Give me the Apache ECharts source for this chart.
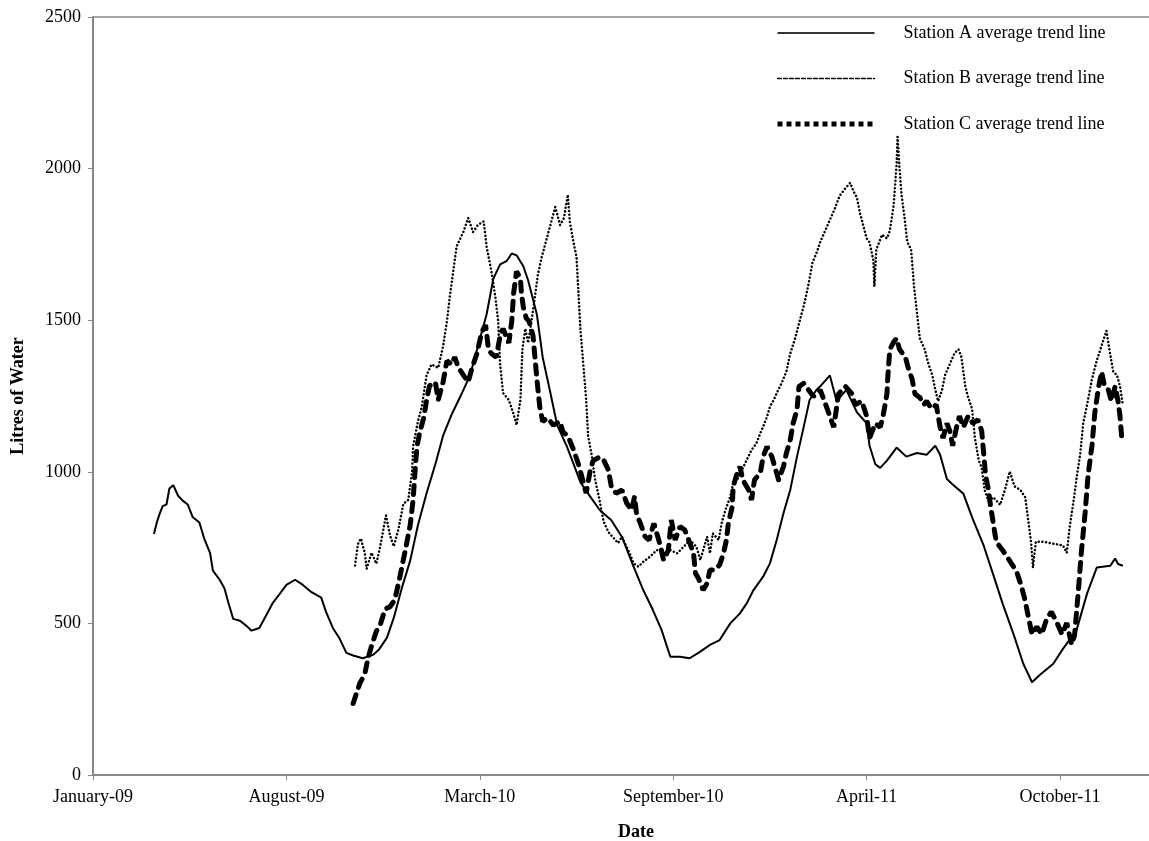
<!DOCTYPE html>
<html>
<head>
<meta charset="utf-8">
<title>Station average trend lines</title>
<script src="https://cdn.jsdelivr.net/npm/echarts@6/dist/echarts.min.js"></script>
<style>
  html, body { margin: 0; padding: 0; background: #fff; }
  #chart { width: 1149px; height: 841px; }
</style>
</head>
<body>
<div id="chart"></div>
<script>
// x values are days counted from the axis start; ticks every 200 days
const tickDays = [0, 200, 400, 600, 800, 1000];
const tickLabels = ['January-09', 'August-09', 'March-10', 'September-10', 'April-11', 'October-11'];

const stationADays = [63, 66, 69, 72, 76, 79, 83, 88, 93, 98, 103, 110, 115, 121, 124, 131, 136, 140, 145, 152, 159, 164, 172, 179, 186, 193, 200, 209, 217, 226, 236, 241, 248, 255, 262, 269, 279, 290, 296, 304, 311, 319, 328, 336, 345, 354, 362, 371, 380, 390, 400, 407, 414, 421, 428, 433, 438, 445, 450, 459, 465, 473, 480, 490, 497, 504, 514, 524, 536, 547, 559, 569, 579, 588, 597, 607, 617, 628, 638, 648, 659, 669, 676, 683, 693, 700, 707, 714, 721, 728, 735, 741, 748, 752, 762, 769, 779, 790, 800, 803, 809, 814, 821, 831, 841, 852, 862, 871, 876, 883, 889, 900, 910, 921, 931, 941, 952, 962, 971, 979, 993, 1003, 1017, 1028, 1038, 1052, 1057, 1060, 1065];
const stationAValues = [795, 833, 862, 887, 892, 945, 956, 921, 904, 892, 851, 833, 780, 733, 674, 644, 615, 568, 515, 509, 491, 476, 485, 526, 568, 597, 627, 644, 627, 603, 585, 538, 485, 450, 403, 394, 385, 397, 415, 453, 518, 613, 707, 824, 930, 1025, 1119, 1190, 1249, 1319, 1437, 1519, 1637, 1684, 1696, 1720, 1714, 1678, 1631, 1519, 1378, 1260, 1154, 1084, 1025, 966, 919, 874, 840, 785, 687, 610, 544, 478, 390, 390, 385, 407, 429, 445, 500, 533, 566, 610, 654, 698, 775, 863, 940, 1050, 1149, 1237, 1270, 1282, 1318, 1233, 1270, 1196, 1160, 1086, 1025, 1013, 1037, 1080, 1050, 1062, 1056, 1086, 1056, 976, 958, 928, 842, 757, 660, 562, 464, 367, 306, 330, 367, 416, 477, 599, 684, 690, 714, 696, 690];

const stationBDays = [271, 274, 277, 281, 283, 288, 293, 297, 303, 307, 311, 316, 321, 326, 330, 331, 336, 340, 345, 350, 357, 362, 366, 369, 373, 376, 383, 388, 393, 398, 404, 407, 412, 416, 419, 421, 424, 430, 435, 438, 442, 444, 447, 450, 455, 460, 464, 469, 474, 478, 483, 487, 491, 493, 497, 500, 502, 504, 507, 510, 512, 516, 519, 523, 528, 533, 538, 543, 547, 550, 555, 559, 564, 569, 576, 583, 590, 597, 604, 611, 617, 624, 628, 635, 638, 641, 647, 650, 654, 659, 662, 666, 671, 676, 681, 686, 690, 693, 697, 700, 704, 707, 712, 717, 721, 726, 731, 736, 740, 744, 748, 752, 757, 762, 767, 772, 778, 783, 786, 790, 793, 797, 800, 803, 807, 808, 810, 816, 821, 824, 828, 831, 832, 834, 836, 839, 842, 846, 849, 852, 855, 860, 864, 868, 871, 874, 878, 881, 886, 891, 895, 898, 902, 905, 909, 912, 916, 919, 922, 926, 931, 938, 943, 948, 953, 959, 964, 967, 970, 972, 975, 983, 993, 1003, 1007, 1010, 1014, 1017, 1021, 1024, 1028, 1033, 1038, 1043, 1048, 1051, 1055, 1059, 1062, 1065];
const stationBValues = [691, 762, 780, 733, 680, 733, 697, 754, 856, 792, 754, 813, 895, 907, 1001, 1084, 1166, 1214, 1319, 1354, 1343, 1414, 1496, 1578, 1672, 1743, 1791, 1837, 1791, 1814, 1826, 1743, 1661, 1578, 1496, 1354, 1260, 1237, 1190, 1154, 1237, 1402, 1472, 1425, 1531, 1649, 1708, 1767, 1826, 1873, 1814, 1837, 1914, 1826, 1755, 1708, 1590, 1472, 1354, 1237, 1119, 1049, 978, 919, 836, 801, 783, 765, 786, 764, 731, 698, 687, 703, 720, 742, 731, 742, 731, 753, 775, 753, 709, 786, 731, 797, 775, 830, 874, 918, 962, 973, 1006, 1039, 1072, 1094, 1127, 1149, 1182, 1215, 1237, 1259, 1292, 1330, 1390, 1440, 1500, 1560, 1620, 1690, 1720, 1758, 1794, 1831, 1867, 1910, 1935, 1953, 1928, 1904, 1855, 1806, 1770, 1757, 1697, 1611, 1733, 1782, 1770, 1794, 1880, 2014, 2105, 2002, 1916, 1843, 1758, 1733, 1611, 1526, 1440, 1404, 1355, 1318, 1270, 1233, 1270, 1318, 1355, 1392, 1404, 1379, 1282, 1245, 1208, 1111, 1037, 1013, 940, 904, 916, 891, 940, 1001, 952, 940, 916, 842, 769, 684, 769, 769, 763, 757, 733, 818, 904, 976, 1062, 1160, 1221, 1306, 1367, 1416, 1465, 1404, 1330, 1318, 1282, 1220];

const stationCDays = [269, 276, 281, 284, 288, 293, 297, 302, 307, 312, 317, 323, 328, 331, 333, 335, 338, 342, 345, 348, 354, 357, 362, 366, 371, 374, 378, 383, 388, 392, 397, 402, 406, 409, 412, 417, 421, 424, 430, 433, 435, 438, 442, 443, 445, 448, 451, 455, 457, 459, 462, 465, 470, 476, 483, 486, 491, 497, 502, 507, 510, 514, 517, 524, 528, 533, 536, 541, 547, 552, 557, 560, 562, 566, 571, 575, 580, 583, 587, 590, 595, 598, 602, 607, 612, 616, 621, 623, 626, 631, 635, 638, 643, 648, 652, 655, 657, 661, 662, 666, 669, 672, 678, 681, 684, 690, 693, 697, 702, 705, 709, 714, 717, 721, 724, 728, 730, 735, 740, 745, 752, 759, 766, 771, 778, 785, 788, 795, 800, 803, 809, 814, 817, 821, 822, 824, 828, 831, 834, 840, 843, 847, 850, 855, 859, 862, 867, 872, 876, 879, 883, 886, 889, 893, 896, 900, 905, 910, 915, 919, 921, 923, 926, 928, 931, 934, 940, 945, 950, 955, 960, 964, 967, 971, 976, 981, 986, 991, 997, 1002, 1007, 1012, 1015, 1019, 1022, 1026, 1029, 1033, 1036, 1040, 1043, 1046, 1050, 1053, 1057, 1060, 1062, 1064];
const stationCValues = [236, 303, 332, 379, 426, 474, 495, 547, 555, 577, 648, 742, 824, 907, 1001, 1084, 1131, 1178, 1237, 1284, 1296, 1237, 1296, 1366, 1354, 1378, 1343, 1319, 1296, 1343, 1390, 1461, 1484, 1402, 1390, 1378, 1449, 1472, 1425, 1496, 1590, 1661, 1637, 1590, 1543, 1507, 1496, 1449, 1378, 1307, 1214, 1166, 1178, 1154, 1166, 1131, 1119, 1072, 1025, 966, 930, 1001, 1036, 1049, 1039, 1006, 951, 929, 940, 896, 874, 918, 863, 830, 786, 775, 830, 797, 753, 709, 742, 841, 775, 819, 808, 775, 731, 665, 649, 610, 632, 676, 676, 693, 731, 775, 830, 885, 951, 995, 1017, 973, 940, 907, 973, 995, 1050, 1083, 1050, 1017, 973, 1017, 1061, 1105, 1160, 1204, 1281, 1292, 1270, 1248, 1270, 1210, 1147, 1257, 1282, 1257, 1221, 1233, 1184, 1111, 1160, 1147, 1184, 1257, 1318, 1404, 1428, 1440, 1404, 1379, 1343, 1306, 1257, 1245, 1221, 1233, 1208, 1221, 1147, 1111, 1160, 1135, 1086, 1147, 1184, 1147, 1184, 1160, 1172, 1135, 1062, 989, 940, 891, 830, 769, 744, 721, 696, 672, 623, 574, 525, 464, 489, 464, 513, 538, 501, 464, 501, 430, 460, 610, 733, 867, 989, 1086, 1196, 1282, 1330, 1282, 1270, 1233, 1282, 1233, 1184, 1105];

const seriesNames = ['Station A average trend line', 'Station B average trend line', 'Station C average trend line'];

function pairs(days, values) {
  return days.map((d, i) => [d, values[i]]);
}

const font = '"Liberation Serif", "DejaVu Serif", serif';
const axisGrey = '#878787';

const chart = echarts.init(document.getElementById('chart'));

const option = {
  animation: false,
  backgroundColor: '#fff',
  textStyle: { fontFamily: font },
  grid: { left: 93, right: 0, top: 17, bottom: 66, outerBoundsMode: 'none' },
  legend: {
    orient: 'vertical',
    left: 770,
    top: 19,
    itemWidth: 97,
    itemHeight: 14,
    itemGap: 27.5,
    selectedMode: false,
    itemStyle: { opacity: 0 },
    textStyle: { fontFamily: font, fontSize: 18, color: '#000', padding: [0, 0, 0, 24] },
    data: [
      { name: seriesNames[0], lineStyle: { color: '#333', width: 2, type: 'solid' } },
      { name: seriesNames[1], lineStyle: { color: '#000', width: 1.3, type: [4, 2] } },
      { name: seriesNames[2], lineStyle: { color: '#000', width: 5, type: [5, 4], cap: 'butt' } }
    ]
  },
  xAxis: [
    {
      type: 'value',
      min: 0,
      max: 1092,
      interval: 200,
      name: 'Date',
      nameLocation: 'middle',
      nameGap: 48,
      nameTextStyle: { fontFamily: font, fontSize: 18, fontWeight: 'bold', color: '#000', padding: [0, 0, 0, 30] },
      axisLine: { show: true, lineStyle: { color: axisGrey, width: 2 } },
      axisTick: { show: true, length: 5, lineStyle: { color: axisGrey }, customValues: tickDays },
      axisLabel: {
        fontFamily: font, fontSize: 18, color: '#000', margin: 13,
        customValues: tickDays,
        formatter: v => tickLabels[tickDays.indexOf(v)] || ''
      },
      splitLine: { show: false }
    },
    {
      type: 'value',
      position: 'top',
      min: 0,
      max: 1092,
      axisLine: { show: true, lineStyle: { color: axisGrey, width: 1.5 } },
      axisTick: { show: false },
      axisLabel: { show: false },
      splitLine: { show: false }
    }
  ],
  yAxis: {
    type: 'value',
    min: 0,
    max: 2500,
    interval: 500,
    name: 'Litres of Water',
    nameLocation: 'middle',
    nameGap: 66,
    nameTextStyle: { fontFamily: font, fontSize: 18, fontWeight: 'bold', color: '#000' },
    axisLine: { show: true, lineStyle: { color: axisGrey, width: 2 } },
    axisTick: { show: true, length: 5, lineStyle: { color: axisGrey } },
    axisLabel: { fontFamily: font, fontSize: 18, color: '#000', margin: 12, formatter: v => String(v) },
    splitLine: { show: false }
  },
  series: [
    {
      name: seriesNames[0],
      type: 'line',
      symbol: 'none',
      data: pairs(stationADays, stationAValues),
      lineStyle: { color: '#000', width: 2 },
      itemStyle: { color: '#000' },
      z: 3
    },
    {
      name: seriesNames[1],
      type: 'line',
      symbol: 'none',
      data: pairs(stationBDays, stationBValues),
      lineStyle: { color: '#000', width: 2.5, type: [0.1, 3.6], cap: 'round' },
      itemStyle: { color: '#000' },
      z: 2
    },
    {
      name: seriesNames[2],
      type: 'line',
      symbol: 'none',
      data: pairs(stationCDays, stationCValues),
      lineStyle: { color: '#000', width: 5, type: [9, 8], cap: 'round' },
      itemStyle: { color: '#000' },
      z: 4
    }
  ]
};

chart.setOption(option);
</script>
</body>
</html>
